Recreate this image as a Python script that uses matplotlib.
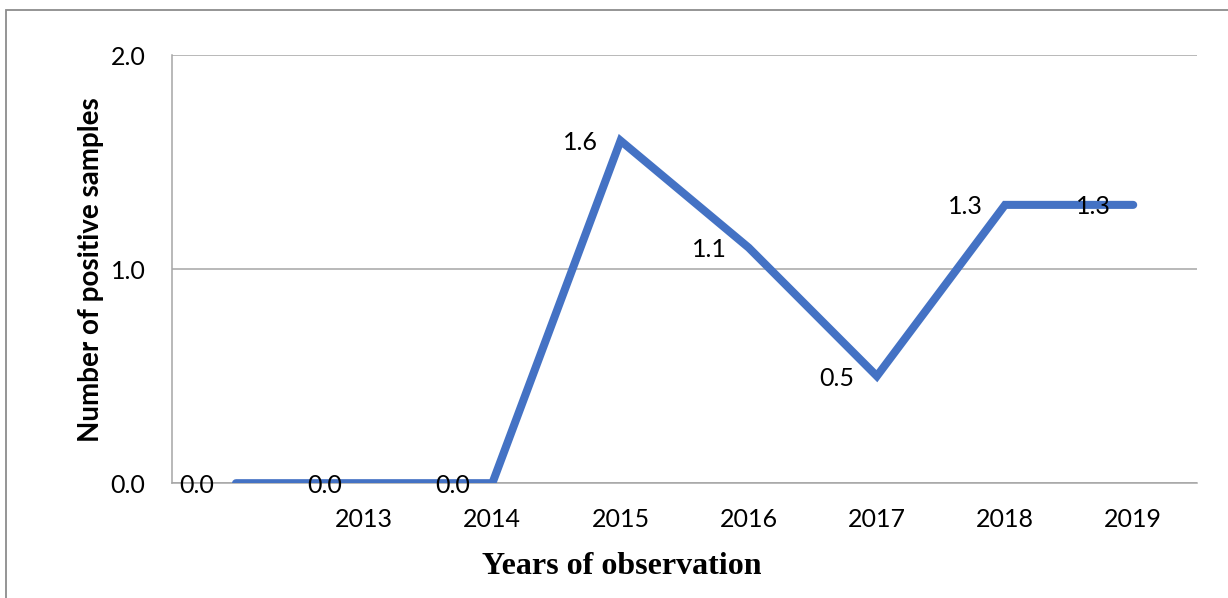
import matplotlib.pyplot as plt
from matplotlib.patches import Rectangle

# Positive samples per year of observation
years = ["", "2013", "2014", "2015", "2016", "2017", "2018", "2019"]
positives = [0.0, 0.0, 0.0, 1.6, 1.1, 0.5, 1.3, 1.3]
y_ticks = [0.0, 1.0, 2.0]

plt.rcParams['font.family'] = ['Lato', 'DejaVu Sans']

fig = plt.figure(figsize=(12.28, 5.98), dpi=100)
ax = fig.add_axes([0.140, 0.192, 0.835, 0.716])

x = list(range(len(years)))
ax.plot(x, positives, color='#4472C4', linewidth=5.8, solid_capstyle='round',
        solid_joinstyle='miter', zorder=3)

# value labels to the left of each point
for xi, v in zip(x, positives):
    ax.annotate(f"{v:.1f}", (xi, v), xytext=(-16, -1.5), textcoords='offset points',
                ha='right', va='center', fontsize=18, color='black', zorder=4)

ax.set_xlim(-0.5, len(years) - 0.5)
ax.set_ylim(0, 2.0)
ax.set_xticks(x)
ax.set_xticklabels(years, fontsize=18)
ax.set_yticks(y_ticks)
ax.set_yticklabels([f"{t:.1f}" for t in y_ticks], fontsize=18)
ax.tick_params(length=0)
ax.tick_params(axis='y', pad=19)
ax.tick_params(axis='x', pad=18)

ax.grid(axis='y', color='#A6A6A6', linewidth=1.1)
ax.set_axisbelow(True)
for side in ['top', 'right']:
    ax.spines[side].set_visible(False)
ax.spines['left'].set_color('#A6A6A6')
ax.spines['bottom'].set_color('#A6A6A6')
ax.spines['left'].set_linewidth(1.1)
ax.spines['bottom'].set_linewidth(1.1)

ax.set_xlabel("Years of observation", family='Liberation Serif', fontweight='bold',
              fontsize=23)
ax.xaxis.set_label_coords(0.439, -0.160)
ax.set_ylabel("Number of positive samples", fontweight='bold', fontsize=20)
ax.yaxis.set_label_coords(-0.066, 0.498)

# outer chart frame
fig.patches.append(Rectangle((6 / 1228, -0.5), 2, 0.5 + (1 - 10 / 598),
                             transform=fig.transFigure, fill=False,
                             edgecolor='#8C8C8C', linewidth=1.3))

fig.savefig("out.png", dpi=100)
